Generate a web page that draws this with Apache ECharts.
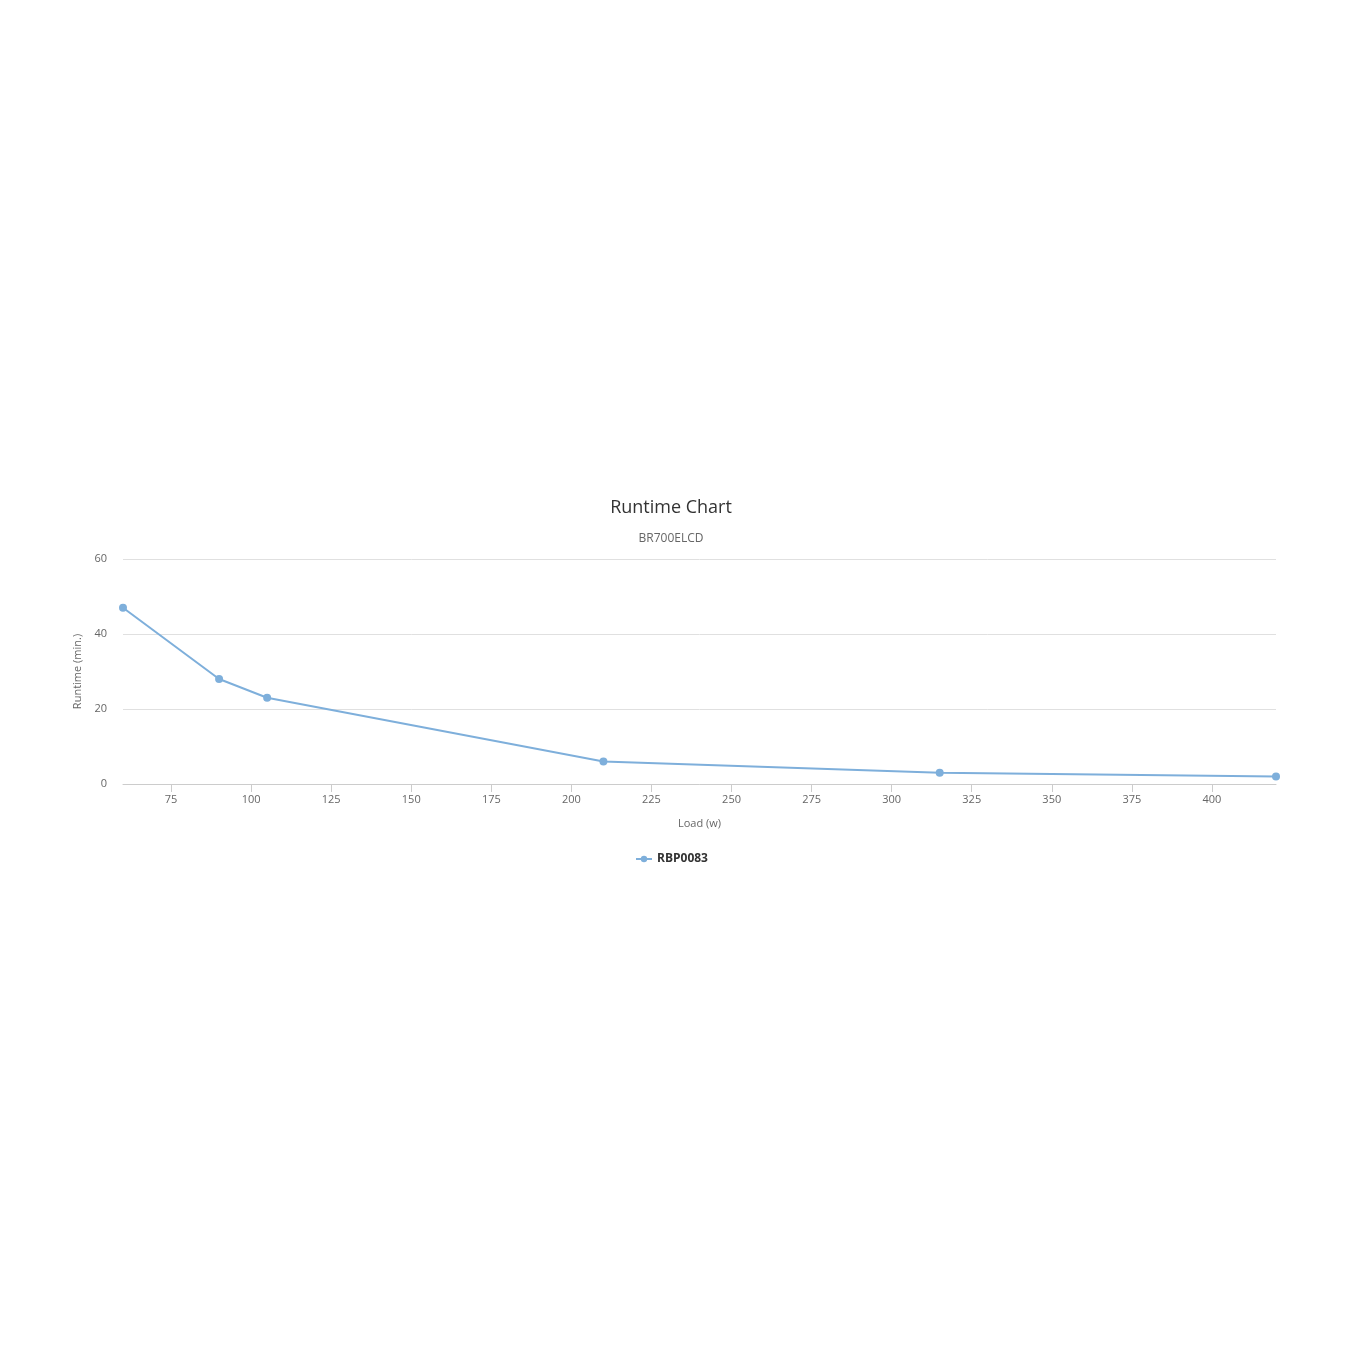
<!DOCTYPE html>
<html>
<head>
    <meta charset="utf-8">
    <script src="https://cdn.jsdelivr.net/npm/echarts@6/dist/echarts.min.js"></script>
    <style>
        html, body { margin: 0; padding: 0; background: #fff; }
    </style>
</head>
<body>
    <div id="main" style="width: 1350px;height:1350px;"></div>
    <script type="text/javascript">
        // data
        var seriesName = 'RBP0083';
        var loads = [60, 90, 105, 210, 315, 420];
        var runtimes = [47, 28, 23, 6, 3, 2];
        var xTicks = [75, 100, 125, 150, 175, 200, 225, 250, 275, 300, 325, 350, 375, 400];

        var points = [];
        for (var i = 0; i < loads.length; i++) {
            points.push([loads[i], runtimes[i]]);
        }

        var myChart = echarts.init(document.getElementById('main'));
        var font = '"Open Sans", "Noto Sans", sans-serif';

        var option = {
            backgroundColor: '#fff',
            animation: false,
            textStyle: { fontFamily: font },
            title: {
                text: 'Runtime Chart',
                subtext: 'BR700ELCD',
                left: 666,
                textAlign: 'center',
                top: 494,
                itemGap: 16,
                textStyle: { fontSize: 18, fontWeight: 'normal', color: '#333', fontFamily: font },
                subtextStyle: { fontSize: 12, color: '#666', fontFamily: font }
            },
            legend: {
                data: [seriesName],
                left: 630,
                top: 848,
                itemWidth: 16,
                itemHeight: 8,
                textStyle: { fontSize: 12, fontWeight: 'bold', color: '#333', fontFamily: font }
            },
            grid: {
                left: 123,
                right: 74,
                top: 559,
                bottom: 566,
                containLabel: false
            },
            xAxis: {
                type: 'value',
                min: 60,
                max: 420,
                name: 'Load (w)',
                nameLocation: 'middle',
                nameGap: 34,
                nameTextStyle: { fontSize: 11, color: '#666' },
                axisLine: { show: true, lineStyle: { color: '#ccc' } },
                axisTick: { show: true, length: 8, customValues: xTicks, lineStyle: { color: '#ccc' } },
                axisLabel: { customValues: xTicks, fontSize: 11, color: '#666', margin: 10 },
                splitLine: { show: false }
            },
            yAxis: {
                type: 'value',
                min: 0,
                max: 60,
                interval: 20,
                name: 'Runtime (min.)',
                nameLocation: 'middle',
                nameGap: 38,
                nameTextStyle: { fontSize: 11, color: '#666' },
                axisLine: { show: false },
                axisTick: { show: false },
                axisLabel: { fontSize: 11, color: '#666', margin: 16 },
                splitLine: { lineStyle: { color: '#e0e0e0' } }
            },
            series: [{
                name: seriesName,
                type: 'line',
                data: points,
                symbol: 'circle',
                symbolSize: 8,
                color: '#7eafdb',
                lineStyle: { width: 2 }
            }]
        };

        myChart.setOption(option);
    </script>
</body>
</html>
